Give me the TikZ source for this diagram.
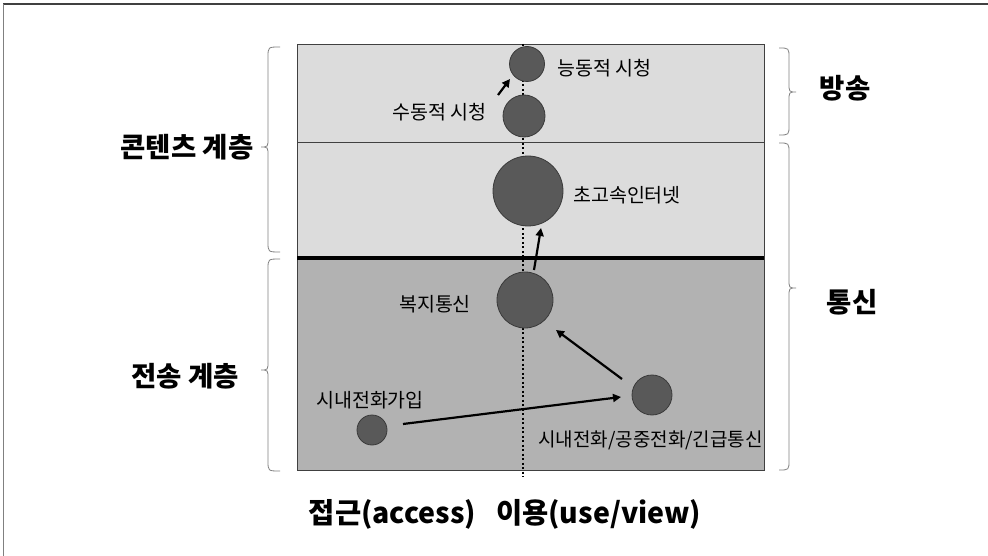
\documentclass[tikz,border=0pt]{standalone}
\usepackage{fontspec}
\setmainfont{Noto Sans CJK KR}
\usetikzlibrary{arrows.meta,calc}
\definecolor{boxlight}{HTML}{DCDCDC}
\definecolor{boxdark}{HTML}{B2B2B2}
\definecolor{edgegray}{HTML}{404040}
\definecolor{dotfill}{HTML}{595959}
\definecolor{dotedge}{HTML}{3A3A3A}
\definecolor{bracegray}{HTML}{808080}
\newcommand\mybrace[6]{% hook x, mid x, tip x, top y, tip y, bottom y
  \draw[bracestyle] (#1,#4) .. controls (#2,#4) .. (#2,{#4+10}) -- (#2,{#5-9})
    .. controls (#2,#5) .. (#3,#5) .. controls (#2,#5) .. (#2,{#5+9})
    -- (#2,{#6-10}) .. controls (#2,#6) .. (#1,#6);}
\begin{document}
\begin{tikzpicture}[x=1pt,y=-1pt,
  bracestyle/.style={draw=bracegray,line width=0.8pt},
  layerbox/.style={draw=edgegray,line width=0.8pt},
  bub/.style={circle,draw=dotedge,fill=dotfill,line width=0.8pt,inner sep=0pt,minimum size=#1},
  lab/.style={inner sep=0pt,font=\fontsize{19.5}{22}\selectfont},
  biglab/.style={inner sep=0pt,font=\fontsize{27.5}{30}\selectfont\bfseries},
  arr/.style={line width=2.2pt,-{Triangle[length=8pt,width=8pt]}}]
\fill[white] (0,0) rectangle (988,556);
\useasboundingbox (0,0) rectangle (988,556);
% outer frame
\draw[edgegray,line width=2pt] (3,4.5) -- (988,4.5);
\draw[bracegray,line width=1pt] (3,4.5) -- (3,556);
% layer boxes
\fill[boxlight] (297,44) rectangle (764,258);
\fill[boxdark] (297,258) rectangle (764,470);
\draw[layerbox] (297,44) rectangle (764,470);
\draw[layerbox] (297,142) -- (764,142);
\draw[black,line width=3pt] (297,258) -- (764,258);
% dotted axis
\draw[black,line width=2pt,dash pattern=on 2pt off 2.5pt] (523,44) -- (523,477);
% bubbles
\node[bub=35pt] (c1) at (527,64) {};
\node[bub=42pt] (c2) at (524,116) {};
\node[bub=70pt] (c3) at (528,191) {};
\node[bub=56pt] (c4) at (525,300) {};
\node[bub=40pt] (c5) at (652,395) {};
\node[bub=30pt] (c6) at (372,430) {};
% labels
\node[lab,anchor=west] (l1) at (557,68) {능동적 시청};
\node[lab,anchor=east] (l2) at (487,112) {수동적 시청};
\node[lab,anchor=west] (l3) at (573,195) {초고속인터넷};
\node[lab] (l4) at (435,304) {복지통신};
\node[lab] (l6) at (370,400) {시내전화가입};
\node[lab,anchor=west,font=\fontsize{19}{22}\selectfont] (l5) at (538,440) {시내전화/공중전화/긴급통신};
% arrows
\draw[arr] ([shift={(-26,-21)}]c2.center) -- ([shift={(-17,15)}]c1.center);
\draw[arr] ([shift={(9,-30)}]c4.center) -- ([shift={(13,37)}]c3.center);
\draw[arr] ([shift={(-30,-16)}]c5.center) -- ([shift={(-96,-65)}]c5.center);
\draw[arr] ([shift={(31,-6)}]c6.center) -- ([shift={(-31,2)}]c5.center);
% braces
\mybrace{280}{268}{261}{47}{147}{252}
\mybrace{280}{268}{261}{259}{370}{471}
\mybrace{779}{789}{796}{48}{92}{135}
\mybrace{779}{789}{796}{143}{288}{470}
% side labels
\node[biglab] (contents) at (187,147) {콘텐츠 계층};
\node[biglab] (transport) at (185,376) {전송 계층};
\node[biglab] (broadcast) at (845,88) {방송};
\node[biglab] (telecom) at (852,302) {통신};
\node[inner sep=0pt,font=\fontsize{28.5}{32}\selectfont\bfseries] (axis) at (505,514) {접근(access)\hspace{20pt}이용(use/view)};
\end{tikzpicture}
\end{document}
